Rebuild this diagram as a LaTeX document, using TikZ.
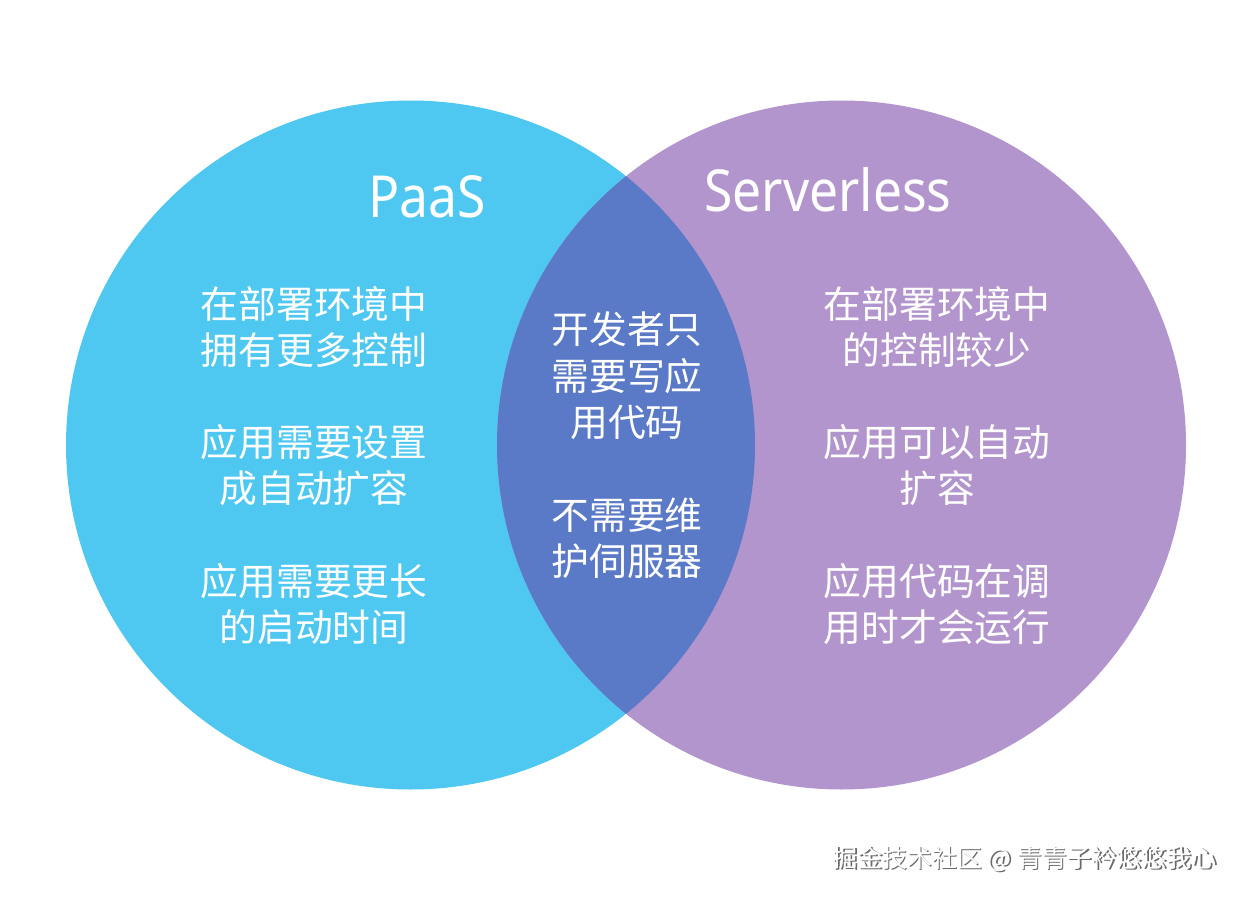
\documentclass[tikz,border=0pt]{standalone}
\usepackage{fontspec}
\setmainfont{Noto Sans CJK SC}
\newfontfamily\titlefont[FakeStretch=0.89]{Noto Sans}
\usepackage{xcolor}
\definecolor{paasfill}{HTML}{4EC7F1}
\definecolor{slessfill}{HTML}{B395CD}
\definecolor{bothfill}{HTML}{5A7AC7}
\definecolor{markgray}{HTML}{6A6A6A}
\usepackage{tikz}
\usetikzlibrary{positioning}

\begin{document}
\begin{tikzpicture}[
  x=0.02cm, y=-0.02cm,
  body/.style={
    text=white, align=center, inner sep=0pt,
    font=\fontsize{21.5}{26.4}\selectfont
  },
  title/.style={
    text=white, inner sep=0pt,
    font=\titlefont\fontsize{33}{36}\selectfont
  },
  wmark/.style={
    anchor=east, inner sep=0pt,
    font=\fontsize{14.2}{16}\selectfont
  }
]
  \useasboundingbox[fill=white] (0,0) rectangle (1242,899);

  % the two sets and their overlap
  \coordinate (pc) at (410.5,445);
  \coordinate (sc) at (841.5,445);
  \fill[paasfill] (pc) circle (344.5);
  \fill[slessfill] (sc) circle (344.5);
  \begin{scope}
    \clip (pc) circle (344.5);
    \fill[bothfill] (sc) circle (344.5);
  \end{scope}

  % titles
  \node[title] (paas) at (427,197) {PaaS};
  \node[title] (sless) at (828,190) {Serverless};

  % PaaS only
  \node[body] (p1) at (314,327) {在部署环境中\\拥有更多控制};
  \node[body] (p2) at (314,465) {应用需要设置\\成自动扩容};
  \node[body] (p3) at (314,604) {应用需要更长\\的启动时间};

  % both
  \node[body] (b1) at (627,376) {开发者只\\需要写应\\用代码};
  \node[body] (b2) at (627,538) {不需要维\\护伺服器};

  % Serverless only
  \node[body] (s1) at (937,327) {在部署环境中\\的控制较少};
  \node[body] (s2) at (937,465) {应用可以自动\\扩容};
  \node[body] (s3) at (937,604) {应用代码在调\\用时才会运行};

  % watermark
  \node[wmark, text=markgray] (markshade) at (1218.5,860.5)
    {掘金技术社区 @ 青青子衿悠悠我心};
  \node[wmark, text=white] (marktext) at (1217,859)
    {掘金技术社区 @ 青青子衿悠悠我心};
\end{tikzpicture}
\end{document}
